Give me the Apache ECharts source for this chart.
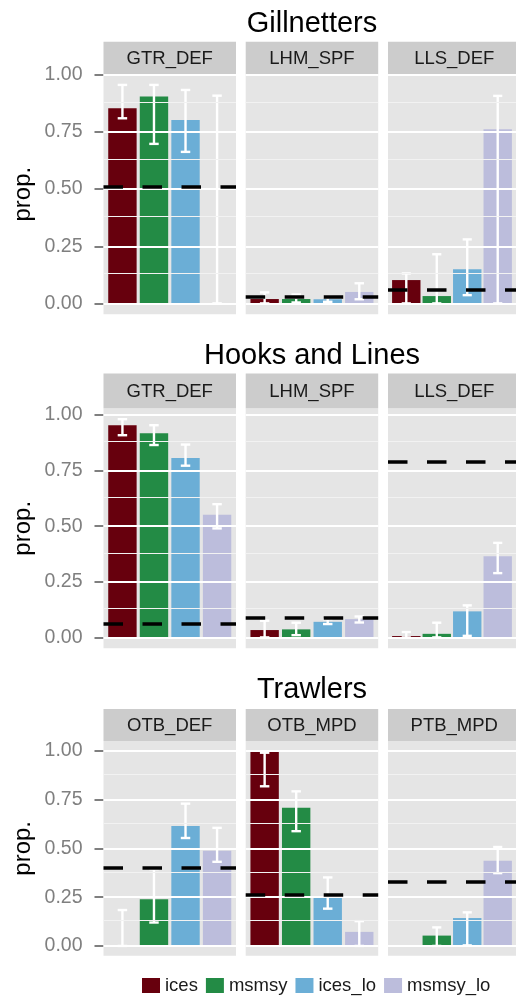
<!DOCTYPE html>
<html>
<head>
<meta charset="utf-8">
<script src="https://cdn.jsdelivr.net/npm/echarts@6/dist/echarts.min.js"></script>
<style>
  html, body { margin: 0; padding: 0; background: #fff; }
  #chart { width: 516px; height: 998px; }
</style>
</head>
<body>
<div id="chart"></div>
<script>
// ---- data ----------------------------------------------------------------
const groups = ['ices', 'msmsy', 'ices_lo', 'msmsy_lo'];
const groupColors = ['#67000d', '#238b45', '#6baed6', '#bcbddc'];
const sectionTitles = ['Gillnetters', 'Hooks and Lines', 'Trawlers'];
const panelNames = [
  ['GTR_DEF', 'LHM_SPF', 'LLS_DEF'],
  ['GTR_DEF', 'LHM_SPF', 'LLS_DEF'],
  ['OTB_DEF', 'OTB_MPD', 'PTB_MPD']
];
const yTicks = [0, 0.25, 0.5, 0.75, 1];
const yMinorTicks = [0.125, 0.375, 0.625, 0.875];

// proportion per panel, in the order of `groups`
const gillProp  = [[0.854, 0.905, 0.803, 0], [0.019, 0.019, 0.018, 0.050], [0.102, 0.032, 0.149, 0.762]];
const gillLower = [[0.810, 0.698, 0.663, 0], [0, 0.004, 0.007, 0.018], [0, 0, 0.036, 0]];
const gillUpper = [[0.956, 0.956, 0.934, 0.909], [0.048, 0.039, 0.029, 0.088], [0.131, 0.215, 0.280, 0.908]];
const gillRef   = [0.511, 0.025, 0.055];

const hookProp  = [[0.954, 0.918, 0.807, 0.551], [0.033, 0.036, 0.070, 0.082], [0.006, 0.016, 0.117, 0.365]];
const hookLower = [[0.909, 0.865, 0.772, 0.490], [0, 0.010, 0.060, 0.067], [0, 0, 0.007, 0.289]];
const hookUpper = [[0.981, 0.954, 0.867, 0.599], [0.075, 0.066, 0.082, 0.094], [0.024, 0.066, 0.144, 0.425]];
const hookRef   = [0.057, 0.088, 0.793];

const trawlProp  = [[0, 0.239, 0.615, 0.488], [1.0, 0.708, 0.251, 0.072], [0, 0.053, 0.143, 0.436]];
const trawlLower = [[0, 0.120, 0.553, 0.431], [0.818, 0.588, 0.191, 0], [null, 0, 0.003, 0.373]];
const trawlUpper = [[0.184, 0.393, 0.729, 0.605], [0.990, 0.792, 0.351, 0.127], [null, 0.095, 0.172, 0.507]];
const trawlRef   = [0.402, 0.261, 0.333];

const propBySection  = [gillProp, hookProp, trawlProp];
const lowerBySection = [gillLower, hookLower, trawlLower];
const upperBySection = [gillUpper, hookUpper, trawlUpper];
const refBySection   = [gillRef, hookRef, trawlRef];

// ---- layout --------------------------------------------------------------
const FONT = "'Liberation Sans', Arial, Helvetica, sans-serif";
const COL_X = [103.5, 245.7, 388];
const PANEL_W = 132.5;
const ROWS = [
  { titleY: 23.5, stripTop: 41.7,  top: 74,    bottom: 314.3 },
  { titleY: 355.5, stripTop: 373.5, top: 408.3, bottom: 648.3 },
  { titleY: 690,  stripTop: 709,   top: 741,   bottom: 955.7 }
];
const X_MIN = 0.4, X_MAX = 4.6;          // discrete scale padding
const BAR_W = 0.9 * PANEL_W / (X_MAX - X_MIN);

const grid = [], xAxis = [], yAxis = [], series = [], graphic = [];

ROWS.forEach((row, r) => {
  // y range: 0 .. max of bars/whiskers, padded by 5% on both ends
  let top = 0;
  propBySection[r].forEach(p => p.forEach(v => { if (v != null) top = Math.max(top, v); }));
  upperBySection[r].forEach(p => p.forEach(v => { if (v != null) top = Math.max(top, v); }));
  const yMin = -0.05 * top, yMax = 1.05 * top;

  graphic.push({
    type: 'text', x: (COL_X[0] + COL_X[2] + PANEL_W) / 2, y: row.titleY,
    style: { text: sectionTitles[r], font: '29px ' + FONT, fill: '#000', align: 'center', verticalAlign: 'middle' }
  });
  graphic.push({
    type: 'text', x: 23, y: (row.top + row.bottom) / 2, rotation: Math.PI / 2,
    style: { text: 'prop.', font: '24px ' + FONT, fill: '#000', align: 'center', verticalAlign: 'middle' }
  });

  COL_X.forEach((cx, c) => {
    const k = grid.length;
    grid.push({
      left: cx, top: row.top, width: PANEL_W, height: row.bottom - row.top,
      show: true, backgroundColor: '#e5e5e5', borderWidth: 0
    });
    xAxis.push({ gridIndex: k, type: 'value', min: X_MIN, max: X_MAX, show: false });
    yAxis.push({
      gridIndex: k, type: 'value', min: yMin, max: yMax,
      splitLine: { show: false },
      axisLine: { show: false },
      axisTick: { show: c === 0, customValues: yTicks, length: 9, lineStyle: { color: '#7f7f7f', width: 2 } },
      axisLabel: {
        show: c === 0, customValues: yTicks, margin: 21,
        formatter: v => v.toFixed(2), color: '#7f7f7f', fontSize: 19.5, fontFamily: FONT
      }
    });

    // strip
    graphic.push({
      type: 'rect', shape: { x: cx, y: row.stripTop, width: PANEL_W, height: row.top - row.stripTop },
      style: { fill: '#cccccc' }
    });
    graphic.push({
      type: 'text', x: cx + PANEL_W / 2, y: (row.stripTop + row.top) / 2 + 1,
      style: { text: panelNames[r][c], font: '18.5px ' + FONT, fill: '#1a1a1a', align: 'center', verticalAlign: 'middle' }
    });

    // grid lines
    series.push({
      type: 'line', xAxisIndex: k, yAxisIndex: k, data: [], z: 1, silent: true,
      markLine: {
        silent: true, symbol: ['none', 'none'], label: { show: false }, animation: false,
        data: yMinorTicks.map(v => ({ yAxis: v, lineStyle: { color: '#f2f2f2', width: 1, type: 'solid' } }))
          .concat(yTicks.map(v => ({ yAxis: v, lineStyle: { color: '#ffffff', width: 2, type: 'solid' } })))
      }
    });

    // bars
    groups.forEach((g, i) => {
      series.push({
        type: 'bar', name: g, xAxisIndex: k, yAxisIndex: k, z: 2,
        barWidth: BAR_W, barGap: '-100%',
        itemStyle: { color: groupColors[i] },
        data: [[i + 1, propBySection[r][c][i]]]
      });
    });

    // dashed reference line
    series.push({
      type: 'line', xAxisIndex: k, yAxisIndex: k, data: [], z: 3, silent: true,
      markLine: {
        silent: true, symbol: ['none', 'none'], label: { show: false }, animation: false,
        lineStyle: { color: '#000', width: 3.5, type: [19.5, 19.5] },
        data: [{ yAxis: refBySection[r][c] }]
      }
    });

    // error bars
    const eb = [];
    groups.forEach((g, i) => {
      const lo = lowerBySection[r][c][i], hi = upperBySection[r][c][i];
      if (lo != null && hi != null) eb.push([i + 1, lo, hi]);
    });
    series.push({
      type: 'custom', xAxisIndex: k, yAxisIndex: k, z: 4, silent: true,
      encode: { x: 0, y: [1, 2] },
      data: eb,
      renderItem: (params, api) => {
        const x = api.value(0);
        const pLo = api.coord([x, api.value(1)]);
        const pHi = api.coord([x, api.value(2)]);
        const hw = api.size([0.3, 0])[0] / 2;
        const st = { stroke: '#ffffff', lineWidth: 2.4 };
        return {
          type: 'group', children: [
            { type: 'line', shape: { x1: pLo[0], y1: pLo[1], x2: pHi[0], y2: pHi[1] }, style: st },
            { type: 'line', shape: { x1: pHi[0] - hw, y1: pHi[1], x2: pHi[0] + hw, y2: pHi[1] }, style: st },
            { type: 'line', shape: { x1: pLo[0] - hw, y1: pLo[1], x2: pLo[0] + hw, y2: pLo[1] }, style: st }
          ]
        };
      }
    });
  });
});

const chart = echarts.init(document.getElementById('chart'), null, { renderer: 'canvas' });
chart.setOption({
  backgroundColor: '#ffffff',
  animation: false,
  grid, xAxis, yAxis, series, graphic,
  legend: {
    data: groups, left: 142, top: 976, padding: 0,
    icon: 'rect', itemWidth: 18, itemHeight: 15, itemGap: 8,
    selectedMode: false,
    textStyle: { fontSize: 18.5, color: '#1a1a1a', fontFamily: FONT }
  }
});
</script>
</body>
</html>
